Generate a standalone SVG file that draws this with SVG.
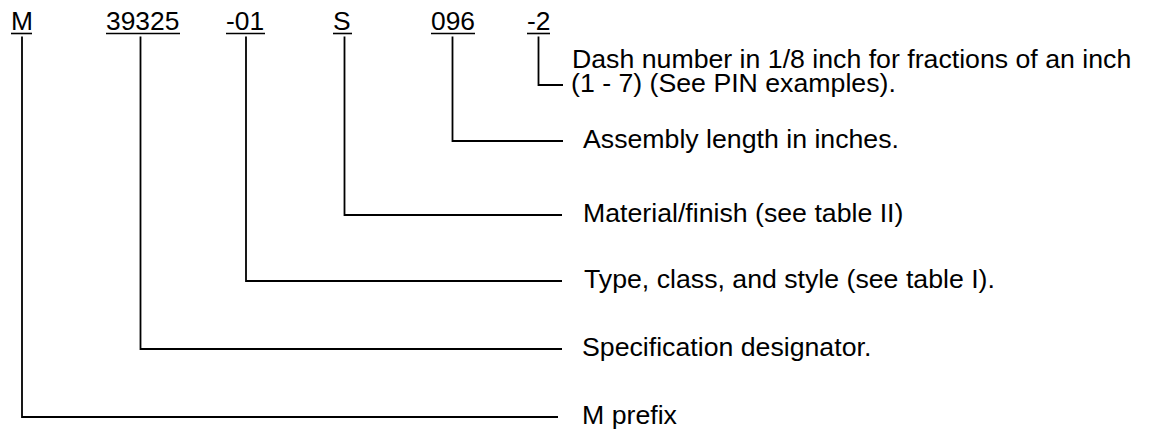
<svg xmlns="http://www.w3.org/2000/svg" width="1160" height="433" viewBox="0 0 1160 433">
<style>
.lbl{font-family:"Liberation Sans",Arial,sans-serif;font-size:26.4px;fill:#000}
.desc{font-family:"Liberation Sans",Arial,sans-serif;font-size:26.7px;fill:#000}
.ul{stroke:#000;stroke-width:1.6;fill:none}
.conn{stroke:#000;stroke-width:1.8;fill:none}
</style>
<rect width="1160" height="433" fill="#fff"/>
<g id="node-M"><text class="lbl" x="11" y="29.5">M</text><line class="ul" x1="11" y1="33.5" x2="32" y2="33.5"/></g>
<g id="node-39325"><text class="lbl" x="106" y="29.5">39325</text><line class="ul" x1="106" y1="33.5" x2="180" y2="33.5"/></g>
<g id="node-01"><text class="lbl" x="226" y="29.5">-01</text><line class="ul" x1="226" y1="33.5" x2="265" y2="33.5"/></g>
<g id="node-S"><text class="lbl" x="333" y="29.5">S</text><line class="ul" x1="333" y1="33.5" x2="352" y2="33.5"/></g>
<g id="node-096"><text class="lbl" x="431" y="29.5">096</text><line class="ul" x1="431" y1="33.5" x2="475" y2="33.5"/></g>
<g id="node-2"><text class="lbl" x="527" y="29.5">-2</text><line class="ul" x1="527" y1="33.5" x2="550" y2="33.5"/></g>
<g id="desc-dash"><text class="desc"><tspan x="572" y="67.5">Dash number in 1/8 inch for fractions of an inch</tspan><tspan x="571" y="91.5">(1 - 7) (See PIN examples).</tspan></text></g>
<g id="desc-assembly"><text class="desc" x="583" y="147.5">Assembly length in inches.</text></g>
<g id="desc-material"><text class="desc" x="583" y="222">Material/finish (see table II)</text></g>
<g id="desc-type"><text class="desc" x="584" y="287.5">Type, class, and style (see table I).</text></g>
<g id="desc-spec"><text class="desc" x="582" y="355.5">Specification designator.</text></g>
<g id="desc-m"><text class="desc" x="582" y="424">M prefix</text></g>
<g id="connectors">
<polyline class="conn" points="538.5,36.5 538.5,85 563,85"/>
<polyline class="conn" points="452.5,36.5 452.5,141 563,141"/>
<polyline class="conn" points="344.5,36.5 344.5,215 562,215"/>
<polyline class="conn" points="246,36.5 246,281 562,281"/>
<polyline class="conn" points="140.5,36.5 140.5,349 562,349"/>
<polyline class="conn" points="22,36.5 22,417 558,417"/>
</g>
</svg>
